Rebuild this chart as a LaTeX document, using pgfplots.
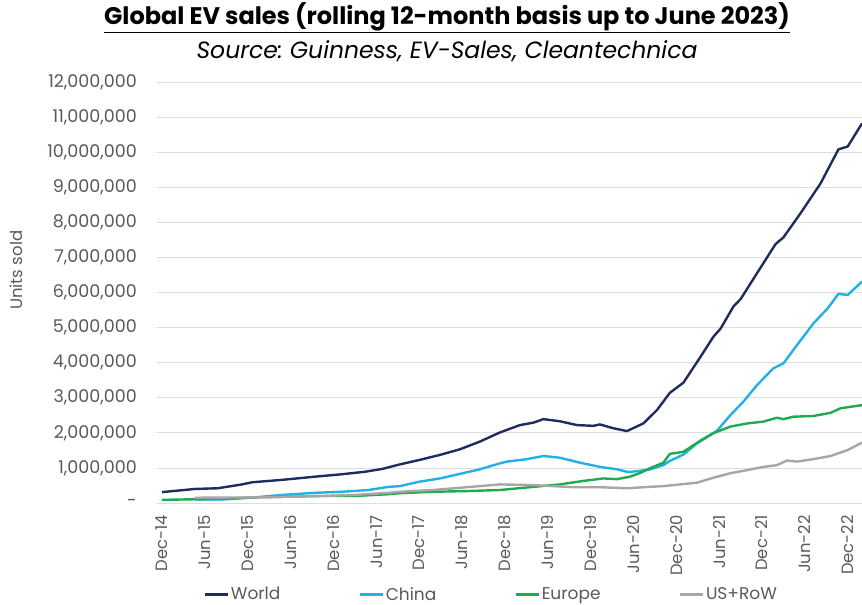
\documentclass[border=0pt]{standalone}
\usepackage{fontspec}
\setmainfont{Poppins}
\usepackage{pgfplots}
\pgfplotsset{compat=1.18}
\definecolor{world}{HTML}{1F2D5E}
\definecolor{china}{HTML}{22B0E6}
\definecolor{europe}{HTML}{1FAA4E}
\definecolor{usrow}{HTML}{A6A6A6}
\definecolor{gridc}{HTML}{DDDDDD}
\definecolor{tickc}{HTML}{595959}
\begin{document}
\frenchspacing
\begin{tikzpicture}
\begin{axis}[
  scale only axis, width=705pt, height=421pt,
  xmin=-0.7, xmax=98, ymin=0, ymax=12000000,
  axis lines*=left,
  y axis line style={draw=none},
  x axis line style={draw=gridc, line width=0.8pt, -},
  ymajorgrids, grid style={draw=gridc, line width=0.8pt},
  major tick length=0pt,
  xtick={0,6,...,96},
  xticklabels={Dec-14,Jun-15,Dec-15,Jun-16,Dec-16,Jun-17,Dec-17,Jun-18,Dec-18,Jun-19,Dec-19,Jun-20,Dec-20,Jun-21,Dec-21,Jun-22,Dec-22},
  xticklabel style={rotate=90, anchor=east, inner sep=0pt, text=tickc, font=\fontsize{16.4}{19}\selectfont},
  xticklabel shift=12pt,
  ytick={0,1000000,...,12000000},
  yticklabels={{-},{1,000,000},{2,000,000},{3,000,000},{4,000,000},{5,000,000},{6,000,000},{7,000,000},{8,000,000},{9,000,000},{10,000,000},{11,000,000},{12,000,000}},
  yticklabel style={inner sep=0pt, text=tickc, font=\fontsize{17.5}{20}\selectfont},
  yticklabel shift=20pt,
  scaled y ticks=false,
  ylabel={Units sold},
  ylabel style={at={(axis description cs:-0.199,0.553)}, anchor=center, rotate=0, text=tickc, font=\fontsize{16.5}{19}\selectfont},
  legend columns=4,
  legend style={draw=none, fill=none, inner sep=0pt, outer sep=0pt,
    at={(axis description cs:0.066,-0.217)}, anchor=west,
    font=\fontsize{17}{20}\selectfont, text=tickc,
    /tikz/every even column/.append style={column sep=76pt}},
  legend image code/.code={\draw[#1] (0pt,0pt) -- (23pt,0pt);},
  every axis plot/.append style={line width=2.4pt, line join=round, mark=none},
]
\addplot[world] coordinates {(0,310000) (4.6,400000) (7.8,420000) (11.2,530000) (12.6,590000) (16.8,660000) (21.4,750000) (25.2,820000) (28.4,890000) (30.8,970000) (33.3,1100000) (36.1,1230000) (38.9,1370000) (41.7,1530000) (44.5,1750000) (47.3,2010000) (50.1,2220000) (52.0,2290000) (53.4,2390000) (55.7,2330000) (58.1,2220000) (60.4,2200000) (61.3,2240000) (63.2,2130000) (65.1,2050000) (67.4,2270000) (69.3,2650000) (71.1,3140000) (73.0,3430000) (75.4,4170000) (77.2,4740000) (78.2,4970000) (80.0,5600000) (81.0,5810000) (83.3,6550000) (85.9,7380000) (87.0,7570000) (89.4,8260000) (92.2,9110000) (94.7,10080000) (96.0,10160000) (98.0,10820000)};
\addlegendentry{World}
\addplot[china] coordinates {(4.6,100000) (8.4,100000) (13.0,160000) (16.8,230000) (21.4,290000) (25.2,320000) (28.9,370000) (31.7,460000) (33.3,480000) (36.1,610000) (38.9,700000) (41.7,830000) (44.5,960000) (47.3,1130000) (48.3,1180000) (51.1,1250000) (53.4,1340000) (55.7,1290000) (58.5,1150000) (61.3,1030000) (63.7,960000) (65.3,880000) (67.0,920000) (68.2,950000) (70.2,1080000) (71.1,1200000) (73.0,1380000) (74.9,1700000) (77.7,2060000) (79.6,2510000) (81.4,2890000) (83.3,3360000) (85.6,3840000) (87.0,3980000) (88.9,4500000) (91.2,5120000) (93.2,5550000) (94.7,5960000) (96.0,5930000) (98.0,6310000)};
\addlegendentry{China}
\addplot[europe] coordinates {(0,90000) (8.4,120000) (13.0,160000) (17.6,180000) (22.4,200000) (27.0,200000) (31.7,250000) (33.3,280000) (37.9,320000) (42.7,340000) (47.3,370000) (52.0,460000) (55.7,530000) (59.0,630000) (61.8,700000) (63.7,680000) (65.5,750000) (67.0,860000) (68.2,980000) (70.2,1150000) (71.1,1400000) (73.0,1460000) (75.4,1780000) (77.2,1990000) (79.6,2180000) (82.0,2270000) (84.2,2320000) (86.1,2430000) (87.0,2390000) (88.4,2460000) (91.2,2480000) (93.6,2570000) (95.0,2700000) (98.0,2790000)};
\addlegendentry{Europe}
\addplot[usrow] coordinates {(4.6,150000) (13.0,160000) (17.6,180000) (22.4,200000) (27.0,230000) (31.7,290000) (33.3,320000) (37.9,370000) (42.7,450000) (47.3,530000) (52.0,510000) (54.8,480000) (57.6,450000) (61.3,450000) (65.1,420000) (68.2,460000) (70.2,480000) (74.9,580000) (77.2,720000) (79.6,850000) (82.0,940000) (84.2,1030000) (86.1,1080000) (87.5,1210000) (88.9,1180000) (91.2,1250000) (93.6,1340000) (96.0,1510000) (98.0,1720000)};
\addlegendentry{US+RoW}
\end{axis}
\node[font=\bfseries\fontsize{24}{28}\selectfont] at (290pt,485pt) {\underline{Global EV sales (rolling 12-month basis up to June 2023)}};
\node[font=\itshape\fontsize{23.5}{28}\selectfont] at (290pt,452pt) {Source: Guinness, EV-Sales, Cleantechnica};
\pgfresetboundingbox
\useasboundingbox (-157pt,-102pt) rectangle (705pt,503pt);
\end{tikzpicture}
\end{document}
